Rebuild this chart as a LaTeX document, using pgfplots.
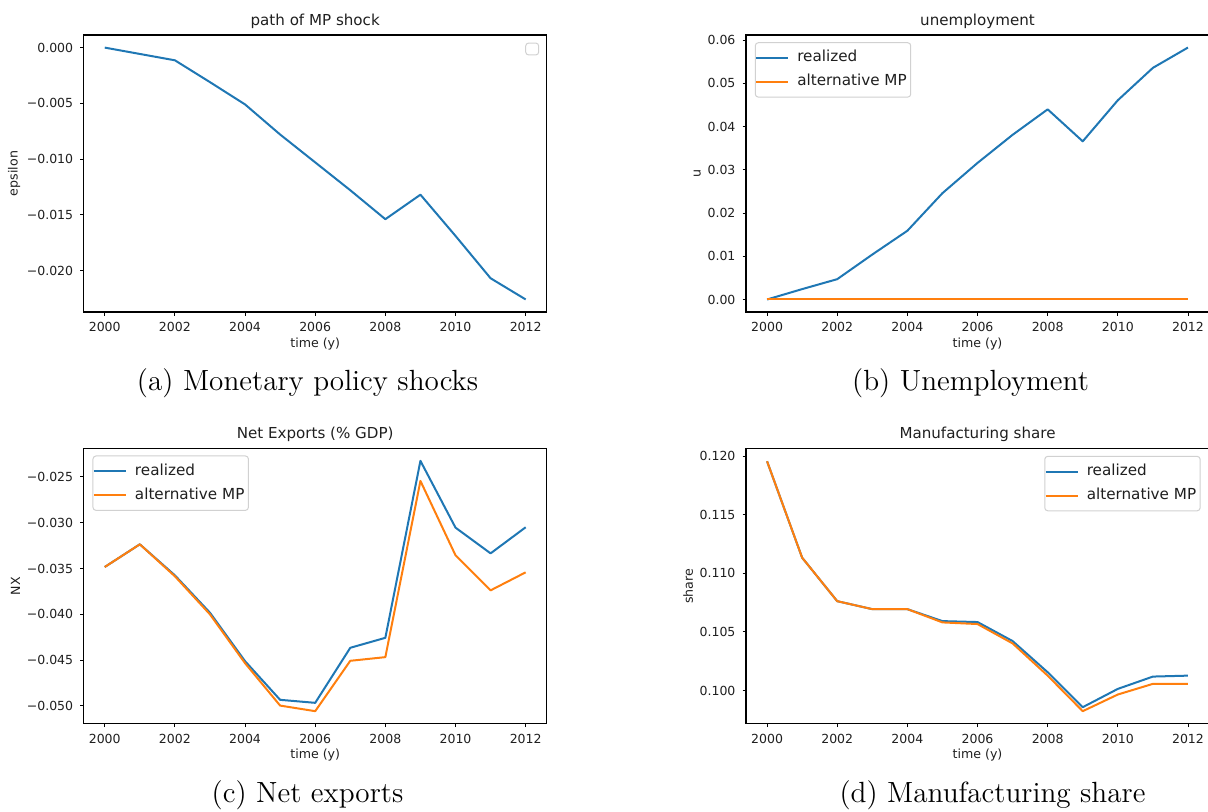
\documentclass[border=0pt]{standalone}
\usepackage{fontspec}
\usepackage{pgfplots}
\pgfplotsset{compat=1.18}
\newfontfamily\mpl{DejaVu Sans}
\newcommand\tickf{\mpl\fontsize{6.25}{7.5}\selectfont}
\newcommand\titf{\mpl\fontsize{7.55}{9}\selectfont}
\newcommand\legf{\mpl\fontsize{7.6}{9}\selectfont}
\newcommand\labf{\mpl\fontsize{6.3}{7.5}\selectfont}
\newcommand\capf{\fontsize{14.6}{17}\selectfont}
\definecolor{mplblue}{HTML}{1F77B4}
\definecolor{mplorange}{HTML}{FF7F0E}
\pgfplotsset{
  mpl/.style={
    scale only axis, width=231.5pt,
    xmin=1999.4, xmax=2012.6,
    xtick={2000,2002,2004,2006,2008,2010,2012},
    xticklabels={2000,2002,2004,2006,2008,2010,2012},
    tick pos=left,
    tick align=outside,
    major tick length=1.75pt,
    every tick/.style={black, line width=0.4pt},
    axis line style={black, line width=0.55pt},
    ticklabel style={font=\tickf, text=black!88},
    label style={font=\labf, text=black!88},
    xlabel style={at={(axis description cs:0.5,0)}, anchor=base, yshift=-17.6pt},
    ylabel style={yshift=-3.5pt},
    every axis title shift=0pt,
    title style={font=\titf, text=black!88, at={(axis description cs:0.5,1)}, anchor=base, yshift=5pt},
    scaled ticks=false,
    every axis plot/.append style={line width=1pt, line join=round},
    legend cell align=left,
    legend image code/.code={\draw[##1] (0pt,0pt) -- (16pt,0pt); \path (18pt,0pt);},
    legend style={font=\legf, text=black!88, draw=black!18, line width=0.5pt,
      rounded corners=1.5pt, fill=white, inner xsep=0pt, inner ysep=4.1pt,
      nodes={inner xsep=2pt, inner ysep=0pt, text height=5.5pt, text depth=1.5pt},
      row sep=5pt},
  }
}
\begin{document}
\begin{tikzpicture}
\useasboundingbox (0pt,0pt) rectangle (604pt,-405.5pt);

% (a)
\begin{axis}[mpl, at={(41.85pt,-156pt)}, anchor=south west, height=138.5pt,
  ymin=-0.02373, ymax=0.00113,
  ytick={0,-0.005,-0.01,-0.015,-0.02},
  yticklabels={0.000,−0.005,−0.010,−0.015,−0.020},
  title={path of MP shock}, xlabel={time (y)}, ylabel={epsilon}]
\addplot[mplblue] coordinates {
(2000,0) (2001,-0.00057) (2002,-0.00114) (2003,-0.0031) (2004,-0.0051)
(2005,-0.0078) (2006,-0.0103) (2007,-0.0128) (2008,-0.0154) (2009,-0.0132)
(2010,-0.0169) (2011,-0.0207) (2012,-0.0226)};
\draw[black!18, line width=0.5pt, rounded corners=1.5pt, fill=white]
  (axis description cs:0.9546,0.971) rectangle (axis description cs:0.9827,0.928);
\end{axis}

% (b)
\begin{axis}[mpl, at={(373pt,-156pt)}, anchor=south west, height=138.5pt,
  ymin=-0.0029, ymax=0.0612,
  ytick={0,0.01,0.02,0.03,0.04,0.05,0.06},
  yticklabels={0.00,0.01,0.02,0.03,0.04,0.05,0.06},
  title={unemployment}, xlabel={time (y)}, ylabel={u},
  legend style={at={(0.019,0.974)}, anchor=north west}]
\addplot[mplblue] coordinates {
(2000,0) (2001,0.0024) (2002,0.0047) (2003,0.0104) (2004,0.0159)
(2005,0.0246) (2006,0.0316) (2007,0.0381) (2008,0.0440) (2009,0.0366)
(2010,0.0461) (2011,0.0536) (2012,0.0583)};
\addlegendentry{realized}
\addplot[draw=mplorange] coordinates {
(2000,0) (2001,0) (2002,0) (2003,0) (2004,0) (2005,0) (2006,0)
(2007,0) (2008,0) (2009,0) (2010,0) (2011,0) (2012,0)};
\addlegendentry{alternative MP}
\end{axis}

% (c)
\begin{axis}[mpl, at={(41.85pt,-361.85pt)}, anchor=south west, height=137.7pt,
  ymin=-0.05195, ymax=-0.02188,
  ytick={-0.025,-0.03,-0.035,-0.04,-0.045,-0.05},
  yticklabels={−0.025,−0.030,−0.035,−0.040,−0.045,−0.050},
  title={Net Exports (\% GDP)}, xlabel={time (y)}, ylabel={NX},
  legend style={at={(0.019,0.974)}, anchor=north west}]
\addplot[mplblue] coordinates {
(2000,-0.03484) (2001,-0.03236) (2002,-0.03575) (2003,-0.03983) (2004,-0.04512)
(2005,-0.04934) (2006,-0.04967) (2007,-0.04366) (2008,-0.04257) (2009,-0.02325)
(2010,-0.03054) (2011,-0.03335) (2012,-0.0305)};
\addlegendentry{realized}
\addplot[mplorange] coordinates {
(2000,-0.03484) (2001,-0.03236) (2002,-0.03585) (2003,-0.04001) (2004,-0.04534)
(2005,-0.04997) (2006,-0.05058) (2007,-0.04508) (2008,-0.04468) (2009,-0.02544)
(2010,-0.03356) (2011,-0.03739) (2012,-0.03542)};
\addlegendentry{alternative MP}
\end{axis}

% (d)
\begin{axis}[mpl, at={(373pt,-361.85pt)}, anchor=south west, height=137.5pt,
  ymin=0.09717, ymax=0.12062,
  ytick={0.1,0.105,0.11,0.115,0.12},
  yticklabels={0.100,0.105,0.110,0.115,0.120},
  title={Manufacturing share}, xlabel={time (y)}, ylabel={share},
  legend style={at={(0.982,0.974)}, anchor=north east}]
\addplot[mplblue] coordinates {
(2000,0.11955) (2001,0.11133) (2002,0.10762) (2003,0.10694) (2004,0.10694)
(2005,0.10592) (2006,0.10584) (2007,0.10422) (2008,0.10156) (2009,0.09858)
(2010,0.10014) (2011,0.10119) (2012,0.10127)};
\addlegendentry{realized}
\addplot[mplorange] coordinates {
(2000,0.11955) (2001,0.11133) (2002,0.10762) (2003,0.10694) (2004,0.10694)
(2005,0.10581) (2006,0.10567) (2007,0.10402) (2008,0.10127) (2009,0.09824)
(2010,0.09966) (2011,0.10057) (2012,0.10057)};
\addlegendentry{alternative MP}
\end{axis}

\node[anchor=base, font=\capf] at (153.75pt,-195pt) {(a) Monetary policy shocks};
\node[anchor=base, font=\capf] at (485.25pt,-195pt) {(b) Unemployment};
\node[anchor=base, font=\capf] at (153.75pt,-401pt) {(c) Net exports};
\node[anchor=base, font=\capf] at (496.25pt,-401pt) {(d) Manufacturing share};
\end{tikzpicture}
\end{document}
